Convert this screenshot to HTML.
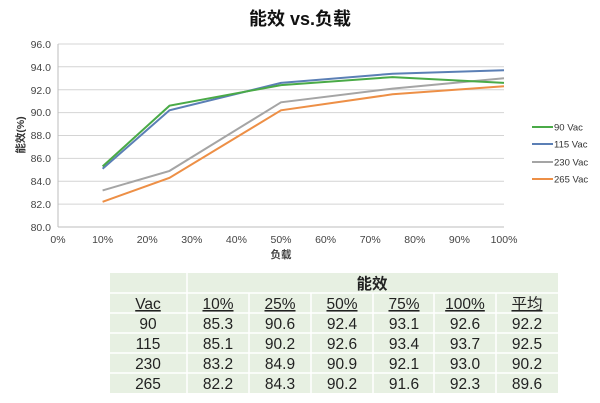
<!DOCTYPE html>
<html><head><meta charset="utf-8"><style>
body{margin:0;width:600px;height:403px;background:#fff;overflow:hidden;font-family:"Liberation Sans","Noto Sans CJK SC",sans-serif}
svg{position:absolute;left:0;top:0}
</style></head><body>
<svg width="600" height="403" xmlns="http://www.w3.org/2000/svg" font-family="Liberation Sans, Noto Sans CJK SC, sans-serif">
<text x="300" y="25" font-size="18" font-weight="bold" text-anchor="middle" fill="#111">能效 vs.负载</text>
<g stroke="#d4d4d4" stroke-width="1">
<line x1="58" x2="504" y1="44" y2="44"/><line x1="58" x2="504" y1="66.8" y2="66.8"/><line x1="58" x2="504" y1="89.7" y2="89.7"/><line x1="58" x2="504" y1="112.6" y2="112.6"/><line x1="58" x2="504" y1="135.5" y2="135.5"/><line x1="58" x2="504" y1="158.4" y2="158.4"/><line x1="58" x2="504" y1="181.2" y2="181.2"/><line x1="58" x2="504" y1="204.1" y2="204.1"/>
</g>
<g stroke="#bdbdbd"><line x1="58" x2="504" y1="227" y2="227"/><line x1="58" x2="58" y1="44" y2="227"/></g>
<g font-size="10.5" fill="#444" text-anchor="end">
<text x="51" y="48">96.0</text><text x="51" y="71">94.0</text><text x="51" y="94">92.0</text><text x="51" y="116">90.0</text><text x="51" y="139">88.0</text><text x="51" y="162">86.0</text><text x="51" y="185">84.0</text><text x="51" y="208">82.0</text><text x="51" y="231">80.0</text>
</g>
<g font-size="10.5" fill="#444" text-anchor="middle">
<text x="58" y="243">0%</text><text x="102.6" y="243">10%</text><text x="147.2" y="243">20%</text><text x="191.8" y="243">30%</text><text x="236.4" y="243">40%</text><text x="281" y="243">50%</text><text x="325.6" y="243">60%</text><text x="370.2" y="243">70%</text><text x="414.8" y="243">80%</text><text x="459.4" y="243">90%</text><text x="504" y="243">100%</text>
<text x="281" y="258" font-size="10.5" font-weight="bold">负载</text>
</g>
<text transform="translate(24,135) rotate(-90)" font-size="10.5" font-weight="bold" fill="#333" text-anchor="middle">能效(%)</text>
<g fill="none" stroke-width="2">
<polyline stroke="#5b7fb5" points="102.6,168.7 169.5,110.3 281,82.9 392.5,73.7 504,70.3"/>
<polyline stroke="#a5a5a5" points="102.6,190.4 169.5,170.9 281,102.3 392.5,88.6 504,78.3"/>
<polyline stroke="#ed8f46" points="102.6,201.8 169.5,177.8 281,110.3 392.5,94.3 504,86.3"/>
<polyline stroke="#4aaa47" points="102.6,166.4 169.5,105.7 281,85.1 392.5,77.1 504,82.9"/>
</g>
<g stroke-width="2">
<line x1="532" x2="553" y1="127" y2="127" stroke="#4aaa47"/>
<line x1="532" x2="553" y1="144" y2="144" stroke="#5b7fb5"/>
<line x1="532" x2="553" y1="162" y2="162" stroke="#a5a5a5"/>
<line x1="532" x2="553" y1="179" y2="179" stroke="#ed8f46"/>
</g>
<g font-size="9.5" fill="#333">
<text x="554" y="130.5">90 Vac</text><text x="554" y="147.5">115 Vac</text><text x="554" y="165.5">230 Vac</text><text x="554" y="182.5">265 Vac</text>
</g>
<rect x="110" y="273" width="448" height="120" fill="#e7f0e2"/>
<g stroke="#fff" stroke-width="1.5">
<line x1="110" x2="558" y1="293" y2="293"/><line x1="110" x2="558" y1="313" y2="313"/><line x1="110" x2="558" y1="333" y2="333"/><line x1="110" x2="558" y1="353" y2="353"/><line x1="110" x2="558" y1="373" y2="373"/>
<line x1="187" x2="187" y1="273" y2="393"/>
<line x1="249" x2="249" y1="293" y2="393"/><line x1="311" x2="311" y1="293" y2="393"/><line x1="373" x2="373" y1="293" y2="393"/><line x1="434" x2="434" y1="293" y2="393"/><line x1="496" x2="496" y1="293" y2="393"/>
</g>
<g font-size="15.5" fill="#222" text-anchor="middle">
<text x="372" y="289" font-weight="bold">能效</text>
<g text-decoration="underline">
<text x="148" y="309">Vac</text><text x="218" y="309">10%</text><text x="280" y="309">25%</text><text x="342" y="309">50%</text><text x="404" y="309">75%</text><text x="465" y="309">100%</text><text x="527" y="309">平均</text>
</g>
<text x="148" y="329">90</text><text x="218" y="329">85.3</text><text x="280" y="329">90.6</text><text x="342" y="329">92.4</text><text x="404" y="329">93.1</text><text x="465" y="329">92.6</text><text x="527" y="329">92.2</text>
<text x="148" y="349">115</text><text x="218" y="349">85.1</text><text x="280" y="349">90.2</text><text x="342" y="349">92.6</text><text x="404" y="349">93.4</text><text x="465" y="349">93.7</text><text x="527" y="349">92.5</text>
<text x="148" y="369">230</text><text x="218" y="369">83.2</text><text x="280" y="369">84.9</text><text x="342" y="369">90.9</text><text x="404" y="369">92.1</text><text x="465" y="369">93.0</text><text x="527" y="369">90.2</text>
<text x="148" y="389">265</text><text x="218" y="389">82.2</text><text x="280" y="389">84.3</text><text x="342" y="389">90.2</text><text x="404" y="389">91.6</text><text x="465" y="389">92.3</text><text x="527" y="389">89.6</text>
</g>
</svg>
</body></html>
